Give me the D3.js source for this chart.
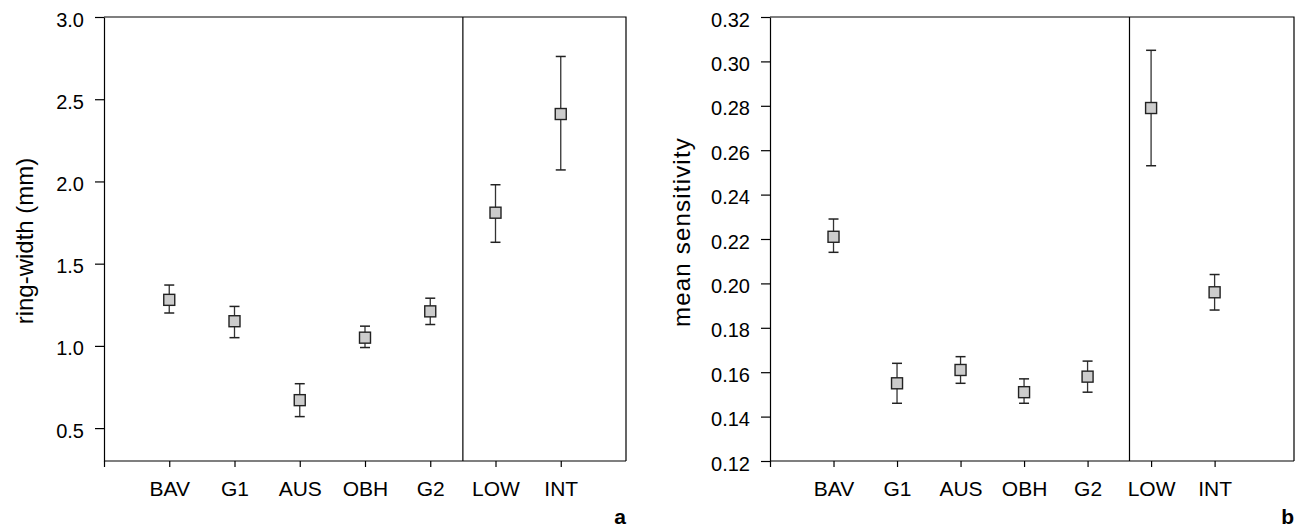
<!DOCTYPE html>
<html>
<head>
<meta charset="utf-8">
<script src="https://cdn.jsdelivr.net/npm/d3@7/dist/d3.min.js"></script>
<style>
  html, body { margin: 0; padding: 0; background: #fff; }
  svg { display: block; font-family: "Liberation Sans", Arial, Helvetica, sans-serif; }
  .axis path, .axis line { stroke: #000; stroke-width: 1.2; }
  .axis text { fill: #000; }
</style>
</head>
<body>
<svg id="chart" width="1304" height="530"></svg>
<script>
// sites / groups along the x axis
var categories = ['BAV', 'G1', 'AUS', 'OBH', 'G2', 'LOW', 'INT'];

// panel a: ring-width (mm), mean and error bar ends
var ringWidth   = [1.28, 1.15, 0.67, 1.05, 1.21, 1.81, 2.41];
var ringWidthHi = [1.37, 1.24, 0.77, 1.12, 1.29, 1.98, 2.76];
var ringWidthLo = [1.20, 1.05, 0.57, 0.99, 1.13, 1.63, 2.07];
var ringTicks   = [0.5, 1.0, 1.5, 2.0, 2.5, 3.0];

// panel b: mean sensitivity, mean and error bar ends
var sensitivity   = [0.221, 0.155, 0.161, 0.151, 0.158, 0.279, 0.196];
var sensitivityHi = [0.229, 0.164, 0.167, 0.157, 0.165, 0.305, 0.204];
var sensitivityLo = [0.214, 0.146, 0.155, 0.146, 0.151, 0.253, 0.188];
var sensTicks     = [0.12, 0.14, 0.16, 0.18, 0.20, 0.22, 0.24, 0.26, 0.28, 0.30, 0.32];

var svg = d3.select('#chart');
var TOP = 17, BOTTOM = 461;

function drawPanel(p){
  var g = svg.append('g');

  var x = d3.scaleLinear().domain([0, p.xMax]).range([p.left, p.right]);
  var y = d3.scaleLinear().domain(p.yDomain).range([BOTTOM, TOP]);

  // frame top / right + group separator
  g.append('path')
    .attr('d', 'M' + p.left + ',' + TOP + 'H' + p.right + 'V' + BOTTOM)
    .attr('fill', 'none').attr('stroke', '#000').attr('stroke-width', 1.2);
  g.append('line')
    .attr('x1', x(p.sep)).attr('x2', x(p.sep))
    .attr('y1', TOP).attr('y2', BOTTOM)
    .attr('stroke', '#000').attr('stroke-width', 1.2);

  // y axis
  var ya = g.append('g').attr('class', 'axis')
    .attr('transform', 'translate(' + p.left + ',0)')
    .call(d3.axisLeft(y).tickValues(p.yTicks).tickFormat(d3.format(p.fmt))
      .tickSize(9).tickSizeOuter(0).tickPadding(11));
  ya.selectAll('text').style('font-size', '20px').attr('dy', '0.45em');

  // x axis
  var xa = g.append('g').attr('class', 'axis')
    .attr('transform', 'translate(0,' + BOTTOM + ')')
    .call(d3.axisBottom(x).tickValues(d3.range(0, categories.length + 1))
      .tickFormat(function(d){ return d === 0 ? '' : categories[d - 1]; })
      .tickSize(6).tickSizeOuter(0).tickPadding(14));
  xa.selectAll('text').style('font-size', '21px');
  xa.select('.domain').attr('d', 'M' + p.left + ',0H' + p.right);

  // axis title
  g.append('text')
    .attr('transform', 'translate(' + p.titleX + ',' + p.titleY + ') rotate(-90)')
    .attr('text-anchor', 'middle')
    .style('font-size', p.titleSize + 'px')
    .style('letter-spacing', p.titleSpacing + 'px')
    .text(p.title);

  // panel letter
  g.append('text')
    .attr('x', p.right).attr('y', 524)
    .attr('text-anchor', 'end')
    .style('font-size', '21px').style('font-weight', 'bold')
    .text(p.letter);

  // error bars + markers
  var pts = categories.map(function(c, i){
    return { i: i + 1, v: p.mean[i], hi: p.hi[i], lo: p.lo[i] };
  });
  var eb = g.selectAll('.eb').data(pts).enter().append('g').attr('class', 'eb');
  eb.append('line')
    .attr('x1', function(d){ return x(d.i); }).attr('x2', function(d){ return x(d.i); })
    .attr('y1', function(d){ return y(d.hi); }).attr('y2', function(d){ return y(d.lo); })
    .attr('stroke', '#333').attr('stroke-width', 1.3);
  ['hi', 'lo'].forEach(function(k){
    eb.append('line')
      .attr('x1', function(d){ return x(d.i) - 5; }).attr('x2', function(d){ return x(d.i) + 5; })
      .attr('y1', function(d){ return y(d[k]); }).attr('y2', function(d){ return y(d[k]); })
      .attr('stroke', '#222').attr('stroke-width', 1.5);
  });
  eb.append('rect')
    .attr('x', function(d){ return x(d.i) - 5.5; })
    .attr('y', function(d){ return y(d.v) - 5.5; })
    .attr('width', 11).attr('height', 11)
    .attr('fill', '#cccccc').attr('stroke', '#222').attr('stroke-width', 1.4);
}

drawPanel({
  left: 104, right: 626, xMax: 8, sep: 5.5,
  yDomain: [0.3, 3.0], yTicks: ringTicks, fmt: '.1f',
  mean: ringWidth, hi: ringWidthHi, lo: ringWidthLo,
  title: 'ring-width (mm)', titleX: 33, titleY: 241, titleSize: 24, titleSpacing: 0, letter: 'a'
});

drawPanel({
  left: 770, right: 1294, xMax: 8.25, sep: 5.66,
  yDomain: [0.12, 0.32], yTicks: sensTicks, fmt: '.2f',
  mean: sensitivity, hi: sensitivityHi, lo: sensitivityLo,
  title: 'mean sensitivity', titleX: 690, titleY: 232, titleSize: 24, titleSpacing: 1.2, letter: 'b'
});
</script>
</body>
</html>
